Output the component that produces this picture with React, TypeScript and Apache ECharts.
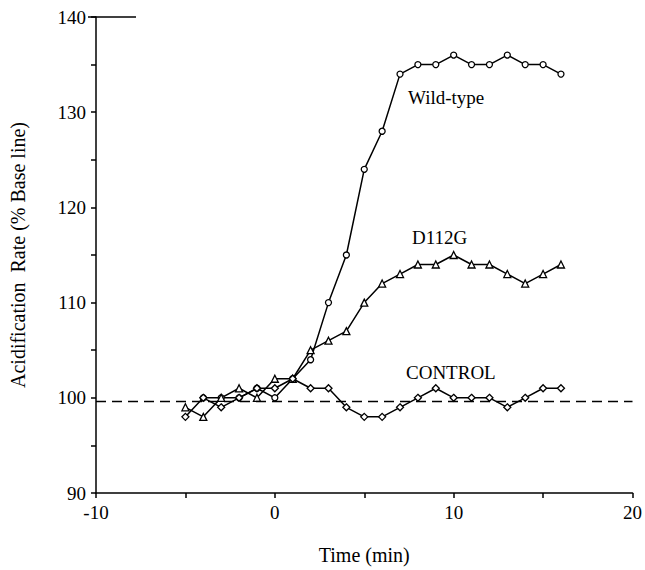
import React, { useEffect, useRef } from "react";
import * as echarts from "echarts";

const wtTime = [-4, -3, -2, -1, 0, 1, 2, 3, 4, 5, 6, 7, 8, 9, 10, 11, 12, 13, 14, 15, 16];
const wtValues = [100, 100, 100, 101, 100, 102, 104, 110, 115, 124, 128, 134, 135, 135, 136, 135, 135, 136, 135, 135, 134];

const d112gTime = [-5, -4, -3, -2, -1, 0, 1, 2, 3, 4, 5, 6, 7, 8, 9, 10, 11, 12, 13, 14, 15, 16];
const d112gValues = [99, 98, 100, 101, 100, 102, 102, 105, 106, 107, 110, 112, 113, 114, 114, 115, 114, 114, 113, 112, 113, 114];

const controlTime = [-5, -4, -3, -2, -1, 0, 1, 2, 3, 4, 5, 6, 7, 8, 9, 10, 11, 12, 13, 14, 15, 16];
const controlValues = [98, 100, 99, 100, 101, 101, 102, 101, 101, 99, 98, 98, 99, 100, 101, 100, 100, 100, 99, 100, 101, 101];

const baseLine = 99.65;
const xTicks = [-10, 0, 10, 20];
const yTicks = [90, 100, 110, 120, 130, 140];

const FONT = "Liberation Serif";

export default function App() {
  const ref = useRef<HTMLDivElement>(null);
  useEffect(() => {
    if (!ref.current) return;
    const chart = echarts.init(ref.current, null, { renderer: "svg" });
    const zip = (t: number[], v: number[]) => t.map((x, i) => [x, v[i]]);
    const lineStyle = { color: "#000", width: 1.5 };
    const itemStyle = { color: "#fff", borderColor: "#000", borderWidth: 1.3 };
    chart.setOption({
      animation: false,
      backgroundColor: "#fff",
      grid: { left: 88, top: 17, right: 11, bottom: 70 },
      xAxis: {
        type: "value",
        min: -10,
        max: 20,
        interval: 5,
        name: "Time (min)",
        nameLocation: "middle",
        nameGap: 52,
        nameTextStyle: { fontFamily: FONT, fontSize: 20, color: "#000" },
        axisLine: { show: true, onZero: false, lineStyle: { color: "#000", width: 1.5 } },
        axisTick: { show: true, length: 5, lineStyle: { color: "#000", width: 1.5 } },
        axisLabel: {
          margin: 10,
          fontFamily: FONT,
          fontSize: 19,
          color: "#000",
          formatter: (v: number) => (xTicks.includes(v) ? String(v) : ""),
        },
        splitLine: { show: false },
      },
      yAxis: {
        type: "value",
        min: 90,
        max: 140,
        interval: 5,
        name: "Acidification  Rate (% Base line)",
        nameLocation: "middle",
        nameGap: 68,
        nameRotate: 90,
        nameTextStyle: { fontFamily: FONT, fontSize: 20, color: "#000" },
        axisLine: { show: true, onZero: false, lineStyle: { color: "#000", width: 1.5 } },
        axisTick: { show: true, length: 5, lineStyle: { color: "#000", width: 1.5 } },
        axisLabel: {
          margin: 10,
          fontFamily: FONT,
          fontSize: 19,
          color: "#000",
          formatter: (v: number) => (yTicks.includes(v) ? String(v) : ""),
        },
        splitLine: { show: false },
      },
      series: [
        {
          name: "Wild-type",
          type: "line",
          data: zip(wtTime, wtValues),
          symbol: "circle",
          symbolSize: 6,
          lineStyle,
          itemStyle,
          z: 3,
        },
        {
          name: "D112G",
          type: "line",
          data: zip(d112gTime, d112gValues),
          symbol: "triangle",
          symbolSize: 7,
          lineStyle,
          itemStyle,
          z: 3,
        },
        {
          name: "CONTROL",
          type: "line",
          data: zip(controlTime, controlValues),
          symbol: "diamond",
          symbolSize: 7,
          lineStyle,
          itemStyle,
          z: 3,
          markLine: {
            silent: true,
            symbol: "none",
            label: { show: false },
            lineStyle: { color: "#000", type: [10, 6], width: 1.3 },
            data: [{ yAxis: baseLine }],
          },
        },
      ],
      graphic: [
        {
          type: "line",
          shape: { x1: 88, y1: 17, x2: 136, y2: 17 },
          style: { stroke: "#000", lineWidth: 1.5 },
        },
        {
          type: "text",
          x: 408,
          y: 97,
          style: { text: "Wild-type", font: `19px "${FONT}"`, fill: "#000", verticalAlign: "middle" },
        },
        {
          type: "text",
          x: 412,
          y: 237,
          style: { text: "D112G", font: `19px "${FONT}"`, fill: "#000", verticalAlign: "middle" },
        },
        {
          type: "text",
          x: 406,
          y: 372,
          style: { text: "CONTROL", font: `19px "${FONT}"`, fill: "#000", verticalAlign: "middle" },
        },
      ],
    });
    return () => chart.dispose();
  }, []);
  return (
    <div
      ref={ref}
      style={{ position: "absolute", left: 0, top: 0, width: 645, height: 570 }}
    />
  );
}
